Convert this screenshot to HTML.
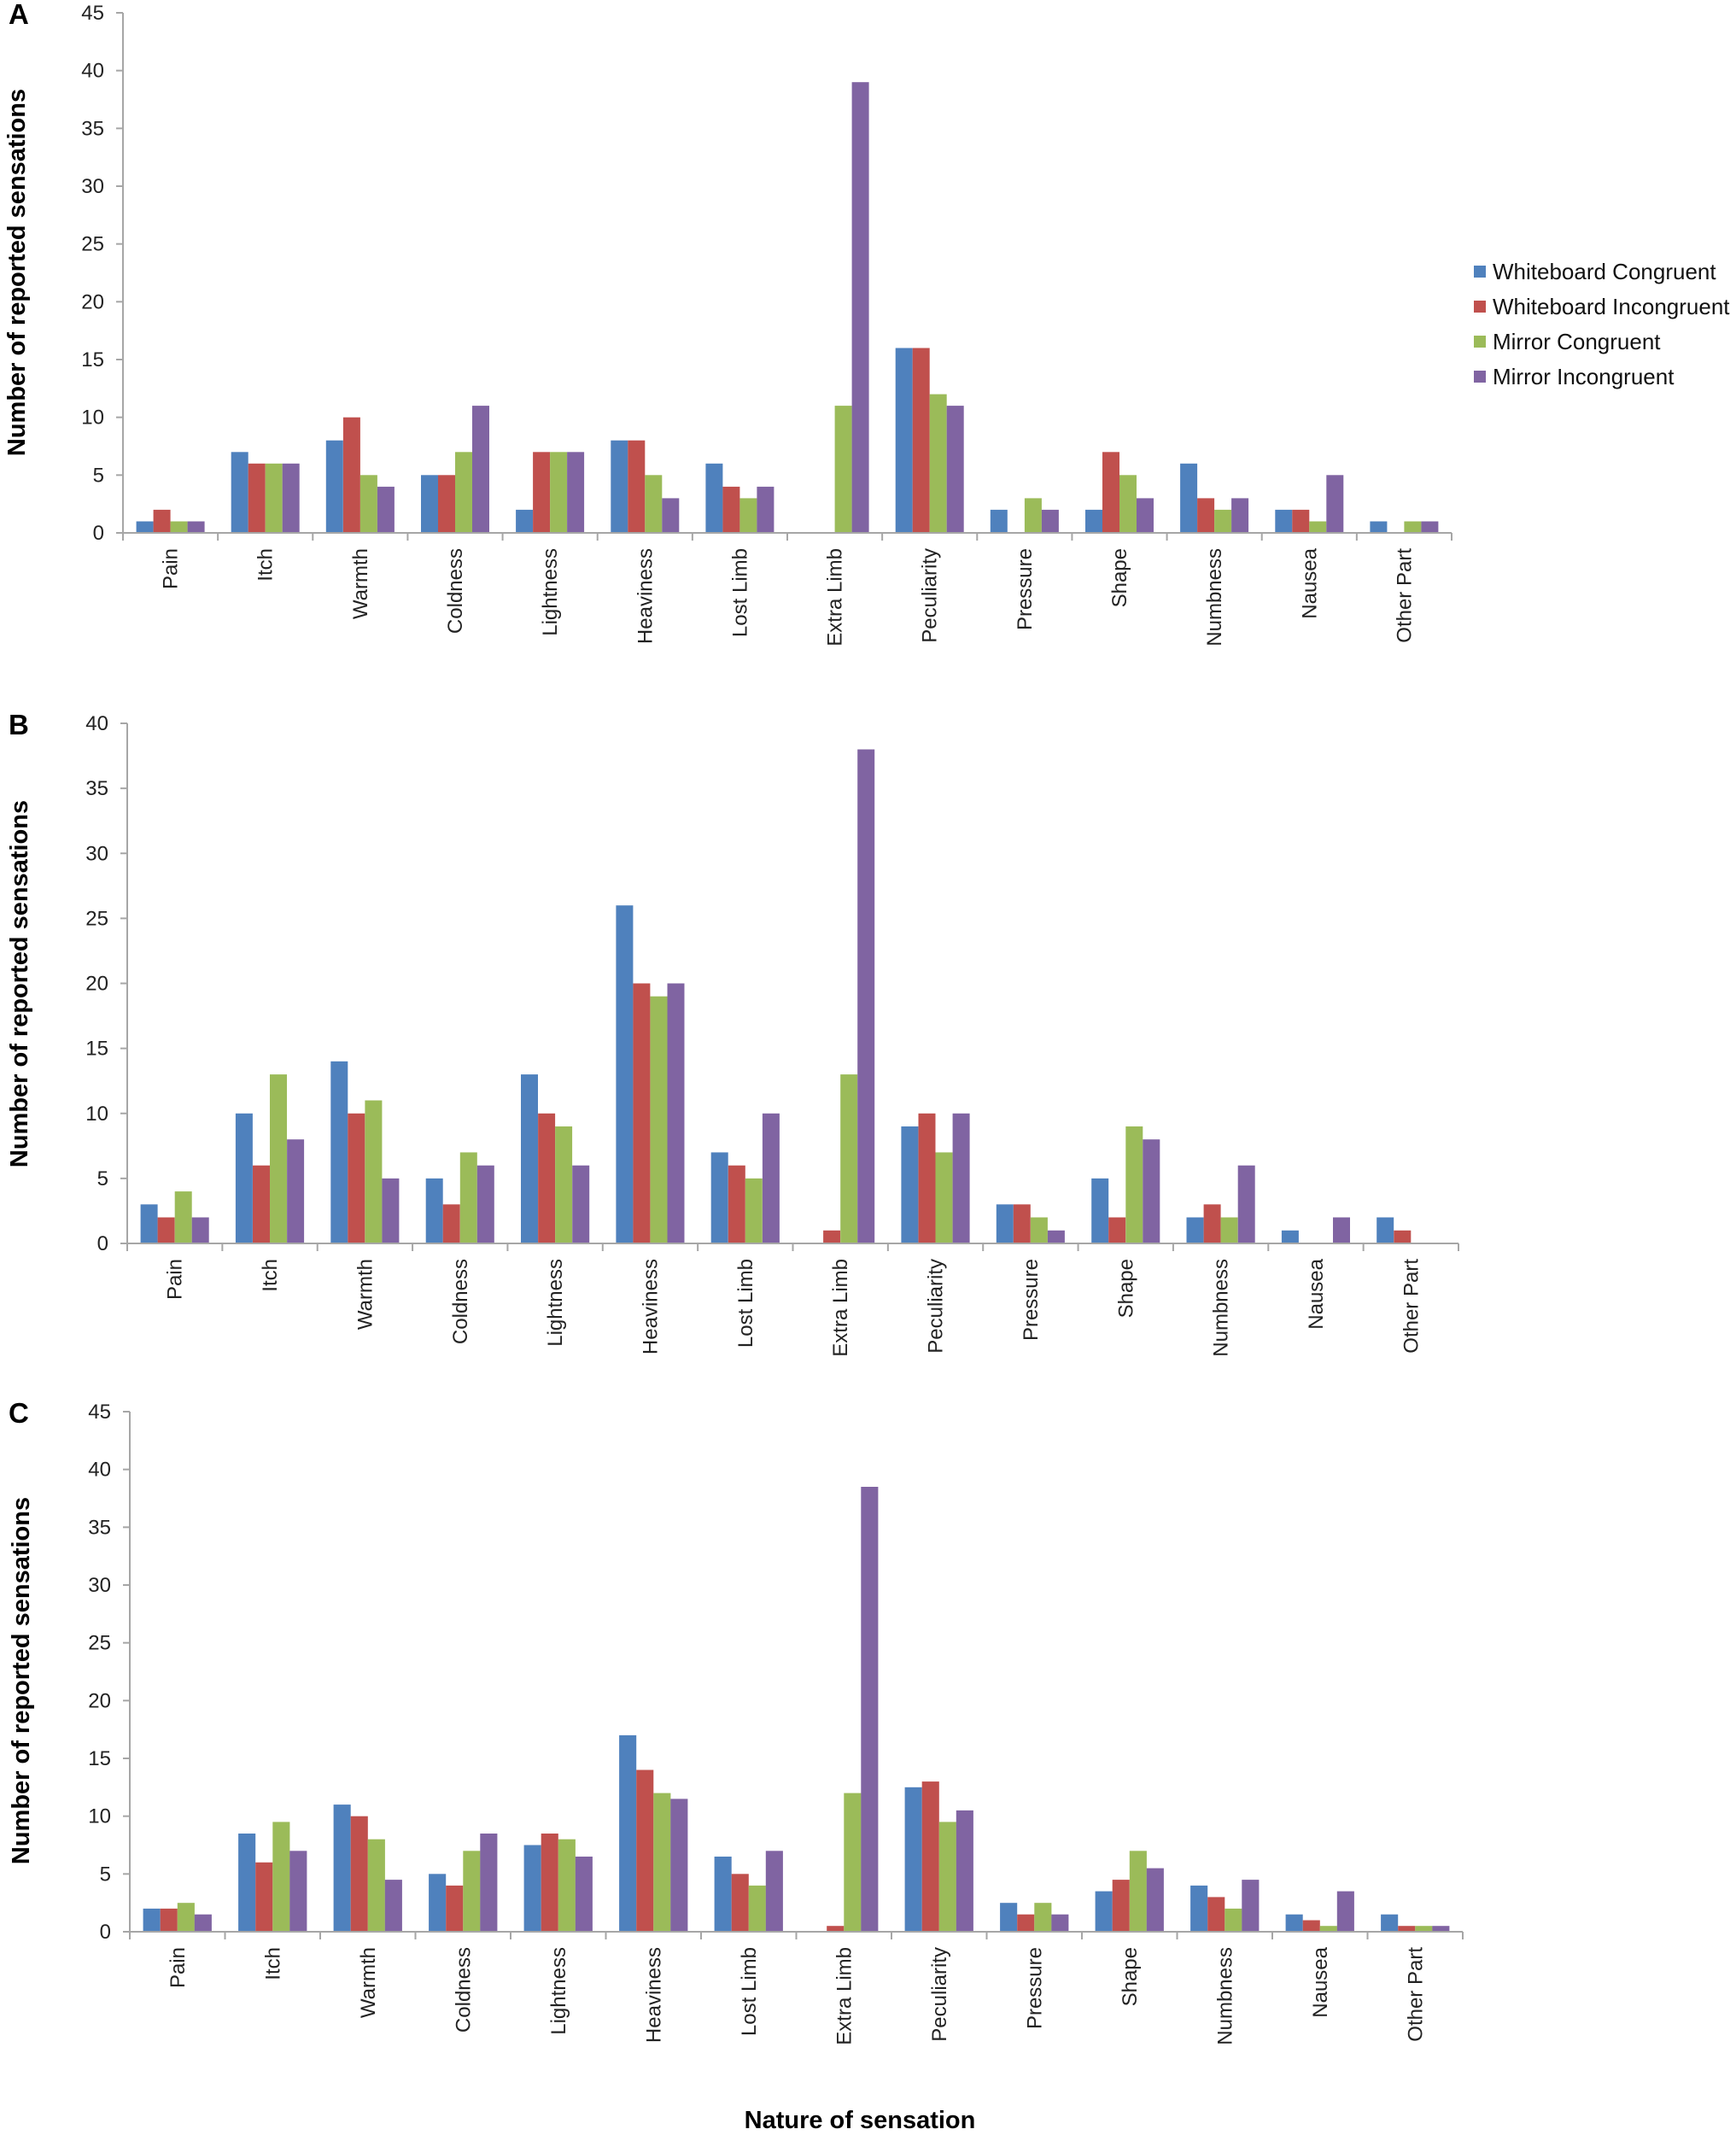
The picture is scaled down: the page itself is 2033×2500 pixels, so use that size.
<!DOCTYPE html>
<html><head><meta charset="utf-8"><style>body{margin:0;background:#fff}svg{display:block}</style></head>
<body>
<svg id="s" width="2033" height="2500" xmlns="http://www.w3.org/2000/svg" font-family="'Liberation Sans', 'DejaVu Sans', sans-serif"></svg>
<script>
const cats=["Pain","Itch","Warmth","Coldness","Lightness","Heaviness","Lost Limb","Extra Limb","Peculiarity","Pressure","Shape","Numbness","Nausea","Other Part"];
const cols=["#4F81BD","#C0504D","#9BBB59","#8064A2"];
const panels=[
 {L:"A",x0:144,x1:1700,ytop:15,y0:624,max:45,
  d:[[1,7,8,5,2,8,6,0,16,2,2,6,2,1],[2,6,10,5,7,8,4,0,16,0,7,3,2,0],[1,6,5,7,7,5,3,11,12,3,5,2,1,1],[1,6,4,11,7,3,4,39,11,2,3,3,5,1]],tx:19,ty:319},
 {L:"B",x0:149,x1:1708,ytop:847,y0:1456,max:40,
  d:[[3,10,14,5,13,26,7,0,9,3,5,2,1,2],[2,6,10,3,10,20,6,1,10,3,2,3,0,1],[4,13,11,7,9,19,5,13,7,2,9,2,0,0],[2,8,5,6,6,20,10,38,10,1,8,6,2,0]],tx:22,ty:1152},
 {L:"C",x0:152,x1:1713,ytop:1653,y0:2262,max:45,
  d:[[2,8.5,11,5,7.5,17,6.5,0,12.5,2.5,3.5,4,1.5,1.5],[2,6,10,4,8.5,14,5,0.5,13,1.5,4.5,3,1,0.5],[2.5,9.5,8,7,8,12,4,12,9.5,2.5,7,2,0.5,0.5],[1.5,7,4.5,8.5,6.5,11.5,7,38.5,10.5,1.5,5.5,4.5,3.5,0.5]],tx:24,ty:1968}
];
let h="";
for(const p of panels){
 const cw=(p.x1-p.x0)/14, u=(p.y0-p.ytop)/p.max, bw=cw*0.18, off=(cw-4*bw)/2;
 for(let s=0;s<4;s++)for(let i=0;i<14;i++){const v=p.d[s][i];if(!v)continue;
  const x=p.x0+i*cw+off+s*bw,hh=v*u;
  h+=`<rect x="${x.toFixed(1)}" y="${(p.y0-hh).toFixed(1)}" width="${bw.toFixed(1)}" height="${hh.toFixed(1)}" fill="${cols[s]}"/>`;}
 h+=`<path d="M${p.x0} ${p.ytop}V${p.y0}H${p.x1}" stroke="#a6a6a6" stroke-width="2" fill="none"/>`;
 for(let v=0;v<=p.max;v+=5){const y=p.y0-v*u;
  h+=`<line x1="${p.x0-8}" x2="${p.x0}" y1="${y}" y2="${y}" stroke="#a6a6a6" stroke-width="2"/>`;
  h+=`<text x="${p.x0-22}" y="${y+8}" font-size="24" text-anchor="end" fill="#222">${v}</text>`;}
 for(let i=0;i<=14;i++){const x=p.x0+i*cw;h+=`<line x1="${x}" x2="${x}" y1="${p.y0}" y2="${p.y0+9}" stroke="#a6a6a6" stroke-width="2"/>`;}
 for(let i=0;i<14;i++){const x=p.x0+(i+0.5)*cw+8,y=p.y0+18;
  h+=`<text transform="translate(${x.toFixed(1)},${y}) rotate(-90)" font-size="24" text-anchor="end" fill="#222">${cats[i]}</text>`;}
 h+=`<text transform="translate(${p.tx+10},${p.ty}) rotate(-90)" font-size="29" font-weight="bold" text-anchor="middle">Number of reported sensations</text>`;
 h+=`<text x="10" y="${p.ytop+13}" font-size="33" font-weight="bold">${p.L}</text>`;
}
const leg=["Whiteboard Congruent","Whiteboard Incongruent","Mirror Congruent","Mirror Incongruent"];
leg.forEach((t,i)=>{const y=318+i*41;
 h+=`<rect x="1726" y="${y-7}" width="14" height="14" fill="${cols[i]}"/>`;
 h+=`<text x="1748" y="${y+9}" font-size="26" fill="#111">${t}</text>`;});
h+=`<text x="1007" y="2492" font-size="29" font-weight="bold" text-anchor="middle">Nature of sensation</text>`;
document.getElementById("s").innerHTML=h;
</script>
</body></html>
